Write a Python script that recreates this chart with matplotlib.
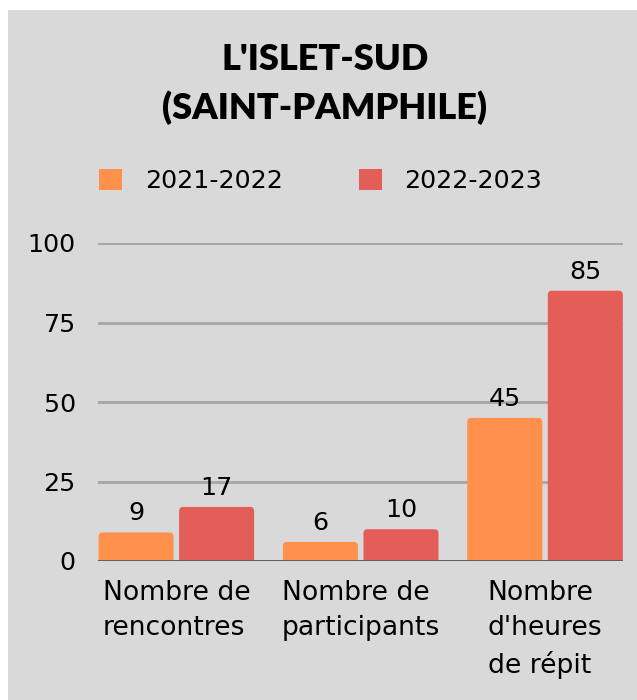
import matplotlib
matplotlib.use("Agg")
import matplotlib.pyplot as plt
import numpy as np
from matplotlib.patches import Patch, FancyBboxPatch

categories = ["Nombre de\nrencontres", "Nombre de\nparticipants", "Nombre\nd'heures\nde répit"]
series_names = ["2021-2022", "2022-2023"]
values_2021 = [9, 6, 45]
values_2022 = [17, 10, 85]
yticks = [0, 25, 50, 75, 100]
title = "L'ISLET-SUD\n(SAINT-PAMPHILE)"

BG = "#d9d9d9"
ORANGE = "#ff914d"
RED = "#e35d59"
plt.rcParams["font.family"] = ["DejaVu Sans"]
FS = 18.3

fig = plt.figure(figsize=(6.37, 7.0), dpi=100)
fig.patch.set_facecolor("white")
fig.patches.append(plt.Rectangle((8/637, 0), 1 - 8/637, 1 - 10/700, transform=fig.transFigure,
                                 facecolor=BG, edgecolor="none", zorder=-10))

ax = fig.add_axes([98/637, 1 - 561/700, (623 - 98)/637, (561 - 243)/700])
ax.set_facecolor(BG)

x = np.arange(len(categories))
w = 0.407
gap = 0.03
b1 = ax.bar(x - w/2 - gap/2, values_2021, w, color=ORANGE, zorder=3)
b2 = ax.bar(x + w/2 + gap/2, values_2022, w, color=RED, zorder=3)

ax.set_ylim(0, 100)
ax.set_xlim(-0.425, 2.423)

# rounded tops: replace each bar by a rounded box derived from its geometry
r_x = 0.022
aspect = 58.0
for cont in (b1, b2):
    for rect in cont:
        rect.set_visible(False)
        rx, ry = rect.get_x(), rect.get_y()
        rw, rh = rect.get_width(), rect.get_height()
        fb = FancyBboxPatch((rx, ry - 3), rw, rh + 3,
                            boxstyle=f"round,pad=0,rounding_size={r_x}",
                            mutation_aspect=aspect,
                            facecolor=rect.get_facecolor(), edgecolor="none", zorder=3)
        ax.add_patch(fb)

ax.bar_label(b1, fontsize=FS, padding=5, color="black")
ax.bar_label(b2, fontsize=FS, padding=5, color="black")

ax.set_yticks(yticks)
ax.set_yticklabels([str(t) for t in yticks], fontsize=FS)
ax.set_xticks(x)
ax.set_xticklabels(categories, fontsize=19.2, multialignment="left", linespacing=1.45)
ax.tick_params(axis="both", length=0)
ax.tick_params(axis="y", pad=16)
ax.tick_params(axis="x", pad=14)
for s in ax.spines.values():
    s.set_visible(False)
ax.grid(axis="y", color="#a6a6a6", linewidth=2, zorder=0)
ax.axhline(0, color="#595959", linewidth=2, zorder=4)

fig.text(0.51, 1 - 84/700, title, ha="center", va="center", fontsize=26,
         fontweight="heavy", linespacing=1.5, family=["Lato", "DejaVu Sans"])

handles = [Patch(facecolor=ORANGE, label=series_names[0]),
           Patch(facecolor=RED, label=series_names[1])]
fig.legend(handles=handles, loc="center left", bbox_to_anchor=(99/637, 1 - 181/700),
           ncol=2, frameon=False, fontsize=FS, handlelength=0.9, handleheight=0.9,
           handletextpad=0.9, columnspacing=3.0, borderpad=0, borderaxespad=0)

fig.savefig("out.png", dpi=100, facecolor=fig.get_facecolor())
